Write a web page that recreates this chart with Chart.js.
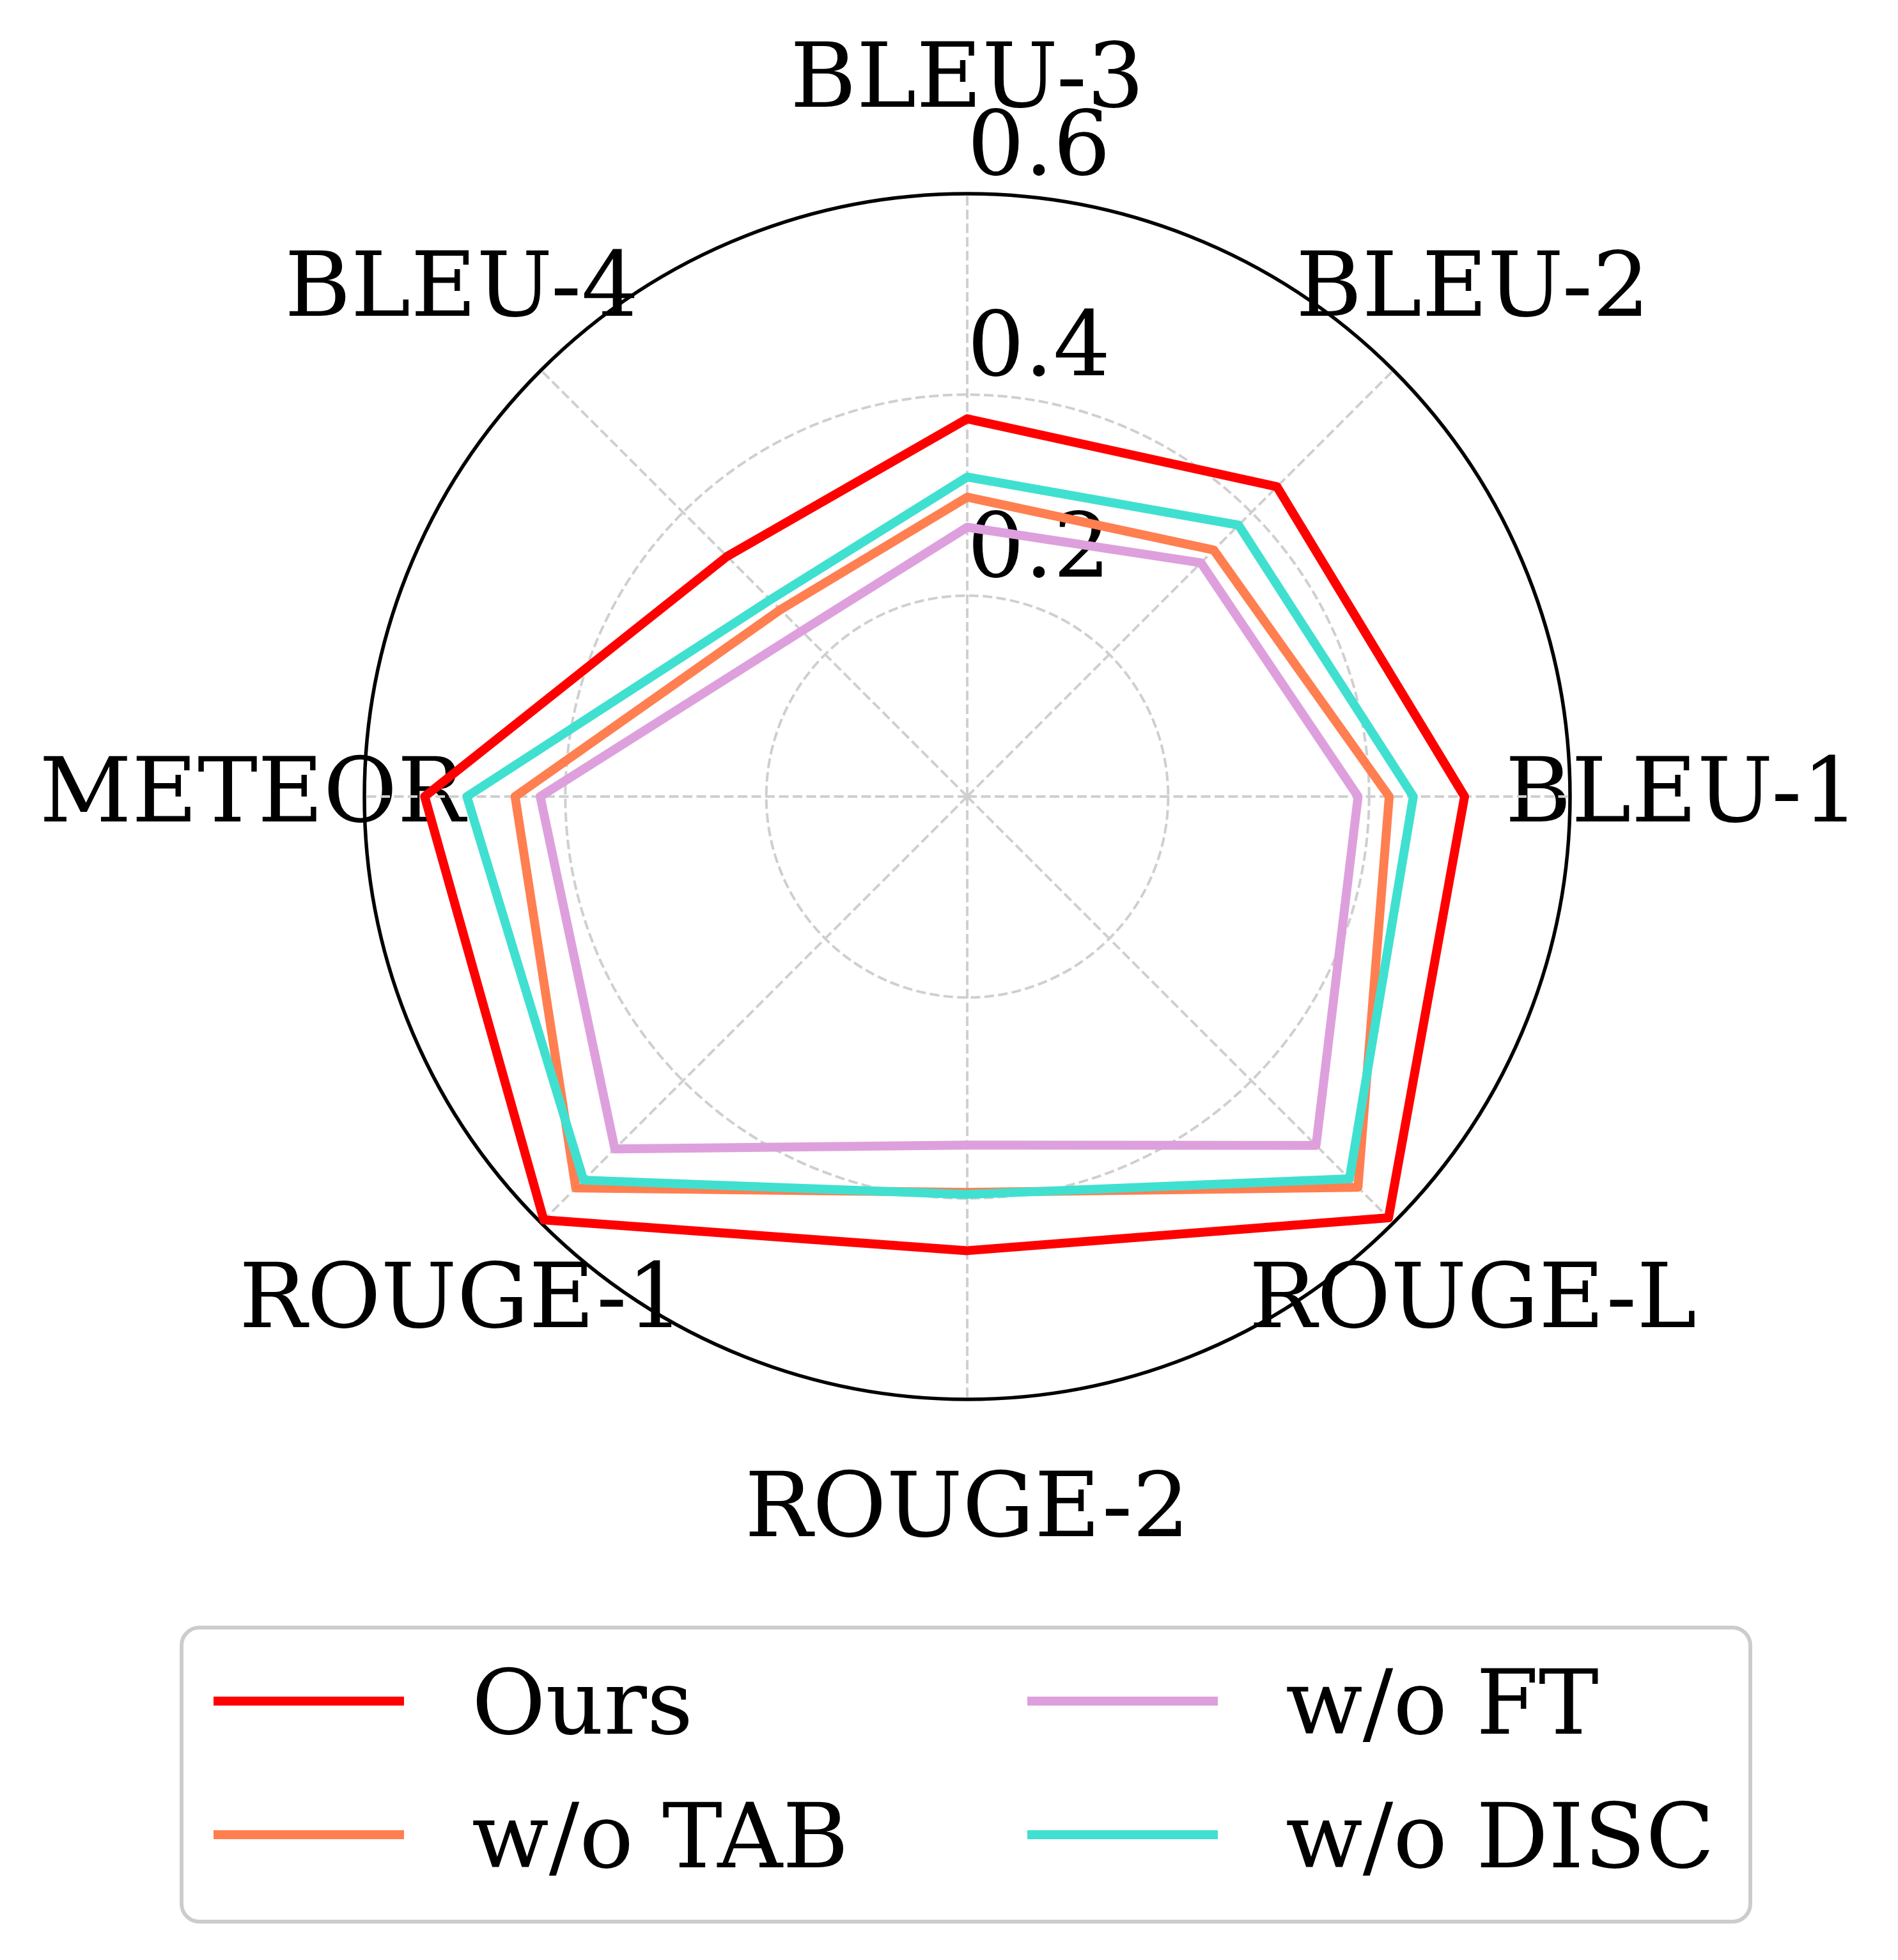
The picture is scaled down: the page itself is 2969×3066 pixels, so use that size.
<!DOCTYPE html>
<html>
<head>
<meta charset="utf-8">
<title>Ablation radar</title>
<script src="https://cdn.jsdelivr.net/npm/chart.js@4.4.1/dist/chart.umd.min.js"></script>
<style>
    html, body { margin: 0; padding: 0; background: #ffffff; }
    canvas { display: block; }
</style>
</head>
<body>
<canvas id="radarChart" width="2969" height="3066"></canvas>
<script>
// metrics in the order they run counter-clockwise, starting at the right
const metrics = ['BLEU-1', 'BLEU-2', 'BLEU-3', 'BLEU-4', 'METEOR', 'ROUGE-1', 'ROUGE-2', 'ROUGE-L'];

const oursScores   = [0.495, 0.436, 0.376, 0.338, 0.540, 0.596, 0.452, 0.593];
const noTabScores  = [0.420, 0.347, 0.298, 0.263, 0.450, 0.551, 0.394, 0.550];
const noFtScores   = [0.389, 0.329, 0.268, 0.233, 0.425, 0.496, 0.347, 0.491];
const noDiscScores = [0.444, 0.382, 0.318, 0.277, 0.498, 0.540, 0.396, 0.538];

const seriesNames  = ['Ours', 'w/o TAB', 'w/o FT', 'w/o DISC'];
const seriesValues = [oursScores, noTabScores, noFtScores, noDiscScores];
const seriesColors = ['#ff0000', '#ff7f50', '#dda0dd', '#40e0d0'];

const radialTicks = [0.2, 0.4, 0.6];
const rMax = 0.6;

const FONT = '141px "DejaVu Serif"';

// Chart.js walks clockwise, so keep the first entry and flip the rest
const clockwise = arr => [arr[0]].concat(arr.slice(1).reverse());

const isOuter = c => c.tick && c.tick.value > rMax - 0.01;

// axis names and the radial tick labels, drawn under the grid and lines
const polarText = {
    id: 'polarText',
    beforeDraw(chart) {
        const scale = chart.scales.r;
        const ctx = chart.ctx;
        const outer = scale.getDistanceFromCenterForValue(rMax);
        ctx.save();
        ctx.fillStyle = '#000000';
        ctx.font = FONT;
        ctx.textAlign = 'center';
        ctx.textBaseline = 'alphabetic';
        chart.data.labels.forEach((label, i) => {
            const p = scale.getPointPosition(i, outer * 1.186);
            ctx.fillText(label, p.x, p.y + 39);
        });
        ctx.textAlign = 'left';
        radialTicks.forEach(v => {
            const d = scale.getDistanceFromCenterForValue(v);
            ctx.fillText(v.toFixed(1), scale.xCenter, scale.yCenter - d - 30);
        });
        ctx.restore();
    }
};

// two-column legend in a rounded frame, filled column by column
const boxLegend = {
    id: 'boxLegend',
    afterDraw(chart) {
        const ctx = chart.ctx;
        const sets = chart.data.datasets;
        ctx.save();
        ctx.beginPath();
        ctx.roundRect(284, 2546, 2454, 460, 28);
        ctx.fillStyle = 'rgba(255,255,255,0.8)';
        ctx.fill();
        ctx.strokeStyle = '#cccccc';
        ctx.lineWidth = 6;
        ctx.stroke();

        ctx.font = FONT;
        ctx.textAlign = 'left';
        ctx.textBaseline = 'alphabetic';
        sets.forEach((ds, k) => {
            const col = Math.floor(k / 2);
            const row = k % 2;
            const x = 334 + col * 1273;
            const y = 2661 + row * 209;
            ctx.strokeStyle = ds.borderColor;
            ctx.lineWidth = 14;
            ctx.lineCap = 'butt';
            ctx.beginPath();
            ctx.moveTo(x, y);
            ctx.lineTo(x + 298, y);
            ctx.stroke();
            ctx.fillStyle = '#000000';
            ctx.fillText(ds.label, x + 404, y + 51);
        });
        ctx.restore();
    }
};

const datasets = seriesNames.map((name, i) => ({
    label: name,
    data: clockwise(seriesValues[i]),
    borderColor: seriesColors[i],
    backgroundColor: 'rgba(0,0,0,0)',
    borderWidth: 14,
    borderJoinStyle: 'round',
    borderCapStyle: 'round',
    pointRadius: 0,
    fill: false,
    tension: 0,
    order: seriesNames.length - 1 - i // later series sit on top
}));

const radarChart = new Chart(document.getElementById('radarChart'), {
    type: 'radar',
    data: {
        labels: clockwise(metrics),
        datasets: datasets
    },
    options: {
        responsive: false,
        devicePixelRatio: 1,
        animation: false,
        layout: {
            padding: { left: 570, right: 513, top: 303, bottom: 877 }
        },
        plugins: {
            legend: { display: false },
            tooltip: { enabled: false }
        },
        elements: {
            line: { tension: 0 }
        },
        scales: {
            r: {
                min: 0,
                max: rMax,
                startAngle: 90,
                ticks: { display: false, stepSize: 0.2 },
                pointLabels: { display: false },
                grid: {
                    circular: true,
                    color: c => isOuter(c) ? '#000000' : '#cfcfcf',
                    lineWidth: c => isOuter(c) ? 5.5 : 4
                },
                border: {
                    dash: c => isOuter(c) ? [] : [15, 6.5]
                },
                angleLines: {
                    color: '#cfcfcf',
                    lineWidth: 4,
                    borderDash: [15, 6.5]
                }
            }
        }
    },
    plugins: [polarText, boxLegend]
});
</script>
</body>
</html>
